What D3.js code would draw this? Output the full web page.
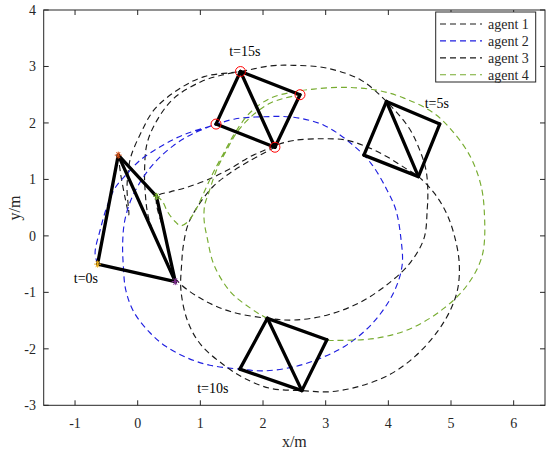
<!DOCTYPE html>
<html><head><meta charset="utf-8">
<script src="https://cdn.jsdelivr.net/npm/d3@7"></script>
<style>
body{margin:0;background:#fff}
svg{display:block}
text{font-family:"Liberation Serif","Times New Roman",serif;fill:#262626}
</style>
</head><body>
<svg id="c" width="550" height="452"></svg>
<script>
// ---- data (metres) ----
const agentNames = ["agent 1", "agent 2", "agent 3", "agent 4"];
const agentColors = ["#1a1a1a", "#1f1fe0", "#1a1a1a", "#77AC30"];

const agent1 = [[-0.31,1.43],[-0.27,1.08],[-0.20,0.67],[-0.14,0.37],[-0.17,0.81],[-0.16,1.05],[-0.11,1.40],[0.05,1.82],[0.26,2.23],[0.63,2.58],[1.06,2.82],[1.64,2.91],[2.11,3.01],[2.49,3.02],[3.02,2.97],[3.56,2.76],[3.97,2.38],[4.33,1.91],[4.49,1.55],[4.60,1.17],[4.63,0.78],[4.62,0.46],[4.57,-0.04],[4.36,-0.46],[4.04,-0.81],[3.56,-1.17],[3.03,-1.40],[2.49,-1.49],[2.07,-1.46],[1.48,-1.34],[1.01,-1.11],[0.62,-0.78],[0.44,-0.39],[0.27,0.00],[0.16,0.39],[0.12,0.78],[0.11,1.17],[0.15,1.64],[0.31,2.05],[0.58,2.44],[1.01,2.73],[1.35,2.85],[1.64,2.91]];

const agent2 = [[-0.64,-0.50],[-0.68,-0.30],[-0.60,0.10],[-0.49,0.52],[-0.36,0.85],[-0.17,1.10],[0.04,1.34],[0.36,1.58],[0.73,1.79],[1.21,1.96],[1.55,2.07],[2.01,2.11],[2.49,2.10],[2.97,1.96],[3.40,1.64],[3.72,1.29],[3.98,0.81],[4.12,0.46],[4.20,-0.04],[4.22,-0.52],[4.09,-0.99],[3.77,-1.52],[3.34,-1.93],[2.93,-2.16],[2.49,-2.32],[2.01,-2.39],[1.63,-2.36],[1.15,-2.29],[0.79,-2.16],[0.44,-1.95],[0.20,-1.72],[-0.06,-1.35],[-0.19,-0.96],[-0.23,-0.52],[-0.24,-0.14],[-0.21,0.25],[-0.11,0.63],[0.06,0.99],[0.28,1.31],[0.56,1.59],[0.88,1.81],[1.25,1.98]];

const agent3 = [[0.60,-0.81],[0.45,-0.04],[0.31,0.69],[0.52,0.78],[0.76,0.85],[1.19,1.03],[1.49,1.20],[1.79,1.40],[2.03,1.52],[2.22,1.61],[2.49,1.69],[2.91,1.72],[3.31,1.70],[3.63,1.59],[3.98,1.40],[4.27,1.20],[4.48,1.05],[4.73,0.76],[4.92,0.42],[5.05,0.02],[5.13,-0.46],[5.11,-0.92],[5.00,-1.29],[4.78,-1.70],[4.43,-2.13],[4.03,-2.45],[3.55,-2.66],[3.07,-2.76],[2.62,-2.74],[2.12,-2.70],[1.70,-2.52],[1.38,-2.29],[1.01,-1.93],[0.80,-1.52],[0.69,-0.96],[0.70,-0.52],[0.73,-0.16],[0.80,0.19],[0.95,0.51],[1.20,0.87],[1.47,1.11],[1.79,1.33],[2.19,1.57]];

const agent4 = [[0.30,0.70],[0.39,0.62],[0.48,0.42],[0.60,0.25],[0.69,0.18],[0.80,0.25],[0.94,0.49],[1.07,0.80],[1.21,1.13],[1.37,1.46],[1.55,1.82],[1.80,2.19],[2.12,2.44],[2.49,2.55],[2.81,2.60],[3.29,2.63],[3.82,2.58],[4.25,2.44],[4.73,2.17],[5.05,1.82],[5.31,1.40],[5.47,0.93],[5.53,0.46],[5.50,-0.34],[5.26,-0.87],[4.89,-1.28],[4.36,-1.64],[3.82,-1.81],[3.24,-1.85],[3.02,-1.84],[2.76,-1.72],[2.54,-1.64],[2.07,-1.46],[1.80,-1.28],[1.48,-0.99],[1.22,-0.52],[1.11,-0.04],[1.06,0.28],[1.07,0.55],[1.13,0.75],[1.26,1.17],[1.42,1.52],[1.60,1.86],[1.82,2.12],[2.11,2.35],[2.35,2.44],[2.59,2.50]];

// formation snapshots: [top, right, bottom, left]
const formation0  = [[-0.31,1.43],[0.30,0.70],[0.60,-0.81],[-0.64,-0.50]];
const formation5  = [[3.97,2.38],[4.82,1.98],[4.48,1.05],[3.61,1.43]];
const formation10 = [[2.07,-1.46],[3.02,-1.84],[2.62,-2.74],[1.63,-2.36]];
const formation15 = [[1.64,2.91],[2.59,2.50],[2.19,1.57],[1.25,1.98]];
const startMarkerColors = ["#D95319", "#77AC30", "#7E2F8E", "#EDB120"];

const timeLabels = ["t=0s", "t=5s", "t=10s", "t=15s"];
const timeLabelPos = [[-1.02,-0.83],[4.58,2.26],[0.95,-2.78],[1.46,3.18]];

const xTicks = [-1, 0, 1, 2, 3, 4, 5, 6];
const yTicks = [-3, -2, -1, 0, 1, 2, 3, 4];

// ---- drawing ----
const svg = d3.select("#c");
const L = 43.7, R = 545, T = 10, B = 405.3;
const x = d3.scaleLinear().domain([-1.5, 6.5]).range([L, R]);
const y = d3.scaleLinear().domain([-3, 4]).range([B, T]);
const line = d3.line().x(d => x(d[0])).y(d => y(d[1])).curve(d3.curveCatmullRom.alpha(0.5));

const plot = svg.append("g");
const agents = [agent1, agent2, agent3, agent4];
agents.forEach((a, i) => {
  plot.append("path").attr("d", line(a)).attr("fill", "none")
    .attr("stroke", agentColors[i]).attr("stroke-width", 1.15)
    .attr("stroke-dasharray", "6,4");
});

// formations: edges top-right, right-bottom, bottom-left, left-top, top-bottom diagonal
const edges = [[0,1],[1,2],[2,3],[3,0],[0,2]];
[formation0, formation5, formation10, formation15].forEach(f => {
  edges.forEach(e => {
    plot.append("line")
      .attr("x1", x(f[e[0]][0])).attr("y1", y(f[e[0]][1]))
      .attr("x2", x(f[e[1]][0])).attr("y2", y(f[e[1]][1]))
      .attr("stroke", "#000").attr("stroke-width", 3.3).attr("stroke-linecap", "round");
  });
});

// start markers (asterisks)
formation0.forEach((p, i) => {
  const g = plot.append("g").attr("transform", `translate(${x(p[0])},${y(p[1])})`);
  const r = 3.5;
  [0, 60, 120].forEach(a => {
    const rad = a * Math.PI / 180;
    g.append("line").attr("x1", -r * Math.cos(rad)).attr("y1", -r * Math.sin(rad))
      .attr("x2", r * Math.cos(rad)).attr("y2", r * Math.sin(rad))
      .attr("stroke", startMarkerColors[i]).attr("stroke-width", 1);
  });
  g.append("line").attr("x1", 0).attr("y1", -r).attr("x2", 0).attr("y2", r)
    .attr("stroke", startMarkerColors[i]).attr("stroke-width", 1);
});

// end markers (red circles)
formation15.forEach(p => {
  plot.append("circle").attr("cx", x(p[0])).attr("cy", y(p[1])).attr("r", 5)
    .attr("fill", "none").attr("stroke", "#ff0000").attr("stroke-width", 1);
});

// time labels
timeLabels.forEach((t, i) => {
  plot.append("text").attr("x", x(timeLabelPos[i][0])).attr("y", y(timeLabelPos[i][1]))
    .attr("font-size", 14).style("fill", "#000").text(t);
});

// axes box
const axisColor = "#262626";
svg.append("rect").attr("x", L).attr("y", T).attr("width", R - L).attr("height", B - T)
  .attr("fill", "none").attr("stroke", axisColor).attr("stroke-width", 1);
const tk = 5;
xTicks.forEach(v => {
  svg.append("line").attr("x1", x(v)).attr("x2", x(v)).attr("y1", B).attr("y2", B - tk).attr("stroke", axisColor);
  svg.append("line").attr("x1", x(v)).attr("x2", x(v)).attr("y1", T).attr("y2", T + tk).attr("stroke", axisColor);
  svg.append("text").attr("x", x(v)).attr("y", 428).attr("text-anchor", "middle").attr("font-size", 14).text(v);
});
yTicks.forEach(v => {
  svg.append("line").attr("x1", L).attr("x2", L + tk).attr("y1", y(v)).attr("y2", y(v)).attr("stroke", axisColor);
  svg.append("line").attr("x1", R).attr("x2", R - tk).attr("y1", y(v)).attr("y2", y(v)).attr("stroke", axisColor);
  svg.append("text").attr("x", 36).attr("y", y(v) + 5).attr("text-anchor", "end").attr("font-size", 14).text(v);
});
svg.append("text").attr("x", (L + R) / 2).attr("y", 447).attr("text-anchor", "middle").attr("font-size", 16).text("x/m");
svg.append("text").attr("transform", "translate(20,208) rotate(-90)").attr("text-anchor", "middle").attr("font-size", 16).text("y/m");

// legend
const lg = svg.append("g");
lg.append("rect").attr("x", 435.7).attr("y", 12).attr("width", 100).attr("height", 70)
  .attr("fill", "#fff").attr("stroke", axisColor).attr("stroke-width", 1);
agentNames.forEach((n, i) => {
  const yy = 24 + i * 16.9;
  lg.append("line").attr("x1", 440).attr("x2", 482).attr("y1", yy).attr("y2", yy)
    .attr("stroke", agentColors[i]).attr("stroke-width", 1.15).attr("stroke-dasharray", "6,4");
  lg.append("text").attr("x", 488).attr("y", yy + 5).attr("font-size", 14).text(n);
});
</script>
</body></html>
